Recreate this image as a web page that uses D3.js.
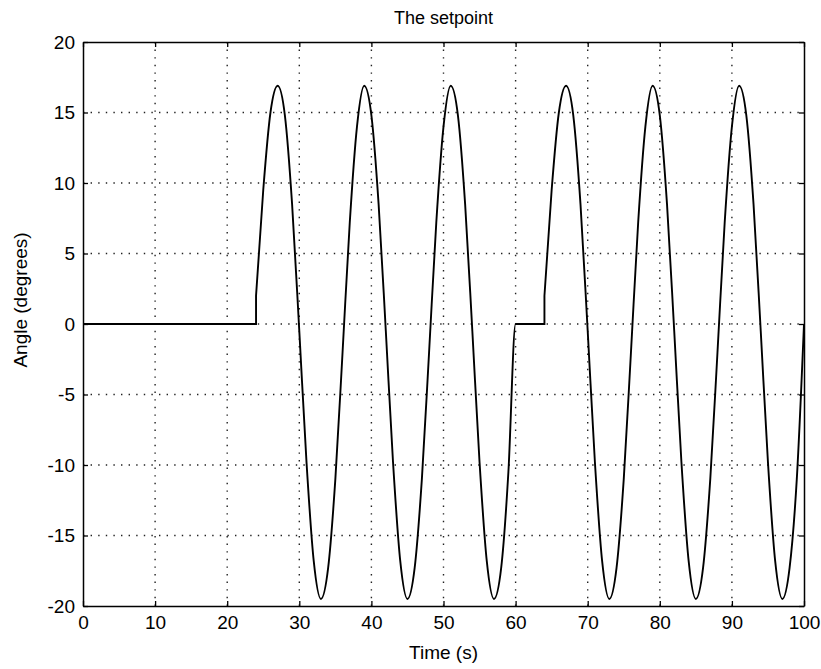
<!DOCTYPE html>
<html>
<head>
<meta charset="utf-8">
<script src="https://cdn.jsdelivr.net/npm/d3@7"></script>
<style>
  body { margin: 0; background: #fff; }
  text { font-family: "Liberation Sans", Arial, sans-serif; fill: #000; }
</style>
</head>
<body>
<script>
// setpoint (time in s, angle in degrees)
var time = [0, 24, 24, 25, 26, 27, 28, 29, 30, 31, 32, 33, 34, 35, 36, 37, 38, 39, 40,
  41, 42, 43, 44, 45, 46, 47, 48, 49, 50, 51, 52, 53, 54, 55, 56, 57, 58, 59, 60,
  64, 64, 65, 66, 67, 68, 69, 70, 71, 72, 73, 74, 75, 76, 77, 78, 79, 80,
  81, 82, 83, 84, 85, 86, 87, 88, 89, 90, 91, 92, 93, 94, 95, 96, 97, 98, 99, 100];
var angle = [0, 0, 2, 9.5, 15, 16.9, 14.8, 8.5, -0.5, -9.8, -16.8, -19.5, -17.3, -11, -2, 7.2, 14, 16.9, 14.8,
  8.5, -0.5, -9.8, -16.8, -19.5, -17.3, -11, -2, 7.2, 14, 16.9, 14.8, 8.5, -0.5, -9.8, -16.8, -19.5, -17.3, -10.5, 0,
  0, 2, 9.5, 15, 16.9, 14.8, 8.5, -0.5, -9.8, -16.8, -19.5, -17.3, -11, -2, 7.2, 14, 16.9, 14.8,
  8.5, -0.5, -9.8, -16.8, -19.5, -17.3, -11, -2, 7.2, 14, 16.9, 14.8, 8.5, -0.5, -9.8, -16.8, -19.5, -17.3, -11, 0];
var xTicks = [0, 10, 20, 30, 40, 50, 60, 70, 80, 90, 100];
var yTicks = [-20, -15, -10, -5, 0, 5, 10, 15, 20];

var W = 821, H = 669;
var margin = {top: 42, right: 17, bottom: 63, left: 83};
var width = W - margin.left - margin.right;
var height = H - margin.top - margin.bottom;

var svg = d3.select("body").append("svg")
    .attr("width", W)
    .attr("height", H);
var g = svg.append("g")
    .attr("transform", "translate(" + margin.left + "," + margin.top + ")");

var x = d3.scaleLinear().domain([0, 100]).range([0, width]);
var y = d3.scaleLinear().domain([-20, 20]).range([height, 0]);

// dotted grid
g.selectAll(".vgrid").data(xTicks.slice(1, -1)).enter().append("line")
    .attr("x1", function(d) { return x(d); }).attr("x2", function(d) { return x(d); })
    .attr("y1", 0).attr("y2", height)
    .attr("stroke", "#222").attr("stroke-width", 1.4).attr("stroke-dasharray", "1.4,6.2");
g.selectAll(".hgrid").data(yTicks.slice(1, -1)).enter().append("line")
    .attr("y1", function(d) { return y(d); }).attr("y2", function(d) { return y(d); })
    .attr("x1", 0).attr("x2", width)
    .attr("stroke", "#222").attr("stroke-width", 1.4).attr("stroke-dasharray", "1.4,6.2");

// axes, ticks pointing inwards like matlab; plain hyphen for negatives
var fmt = function(d) { return String(d); };
var xAxis = d3.axisBottom(x).tickValues(xTicks).tickFormat(fmt).tickSizeInner(-5).tickSizeOuter(0).tickPadding(10);
var yAxis = d3.axisLeft(y).tickValues(yTicks).tickFormat(fmt).tickSizeInner(-5).tickSizeOuter(0).tickPadding(8);
var gx = g.append("g").attr("transform", "translate(0," + height + ")").call(xAxis);
var gy = g.append("g").call(yAxis);
g.append("g").call(d3.axisTop(x).tickValues(xTicks).tickSizeInner(-5).tickSizeOuter(0).tickFormat(""));
g.append("g").attr("transform", "translate(" + width + ",0)")
    .call(d3.axisRight(y).tickValues(yTicks).tickSizeInner(-5).tickSizeOuter(0).tickFormat(""));
svg.selectAll(".domain").attr("stroke", "#000").attr("stroke-width", 1.5);
svg.selectAll(".tick line").attr("stroke", "#000").attr("stroke-width", 1.3);
gx.selectAll("text").attr("font-size", "19px").attr("font-family", "Liberation Sans, Arial, sans-serif");
gy.selectAll("text").attr("font-size", "19px").attr("font-family", "Liberation Sans, Arial, sans-serif");

// the setpoint curve; repeated time values are vertical jumps
var pts = time.map(function(t, i) { return [t, angle[i]]; });
var runs = [[pts[0]]];
for (var i = 1; i < pts.length; i++) {
  if (pts[i][0] === pts[i - 1][0]) runs.push([]);
  runs[runs.length - 1].push(pts[i]);
}
var line = d3.line()
    .x(function(d) { return x(d[0]); })
    .y(function(d) { return y(d[1]); })
    .curve(d3.curveMonotoneX);
var dStr = runs.map(function(r, k) {
  var s = line(r);
  return k === 0 ? s : "L" + s.slice(1);
}).join("");
g.append("path")
    .attr("d", dStr)
    .attr("fill", "none")
    .attr("stroke", "#000")
    .attr("stroke-width", 1.9);

// labels
svg.append("text")
    .attr("x", margin.left + width / 2).attr("y", 24)
    .attr("text-anchor", "middle").attr("font-size", "18px")
    .text("The setpoint");
svg.append("text")
    .attr("x", margin.left + width / 2).attr("y", 659)
    .attr("text-anchor", "middle").attr("font-size", "19px")
    .text("Time (s)");
svg.append("text")
    .attr("transform", "translate(27,300) rotate(-90)")
    .attr("text-anchor", "middle").attr("font-size", "19px")
    .text("Angle (degrees)");
</script>
</body>
</html>
